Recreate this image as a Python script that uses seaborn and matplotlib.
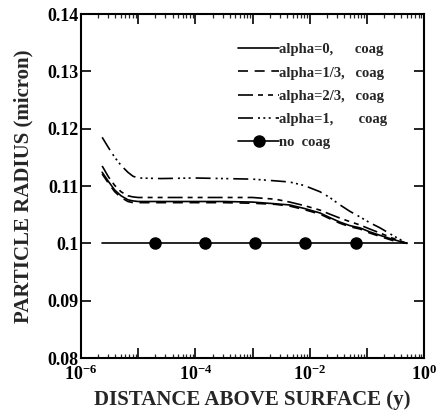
import numpy as np
import pandas as pd
import seaborn as sns
import matplotlib
matplotlib.use("Agg")
import matplotlib.pyplot as plt
from matplotlib.ticker import FixedLocator, LogLocator, NullFormatter

# values (x given as log10 of distance)
log_x = [-5.63, -5.52, -5.41, -5.3, -5.18, -5.09, -5.0, -4.6, -4.0, -3.5, -3.0, -2.6,
         -2.35, -2.1, -1.82, -1.65, -1.47, -1.3, -1.12, -0.95, -0.77, -0.55, -0.3]
r_alpha0 = [0.1124, 0.1108, 0.1093, 0.1083, 0.1076, 0.1074, 0.1073, 0.1073, 0.1073, 0.1073, 0.1072, 0.1069,
            0.1067, 0.1061, 0.1053, 0.1045, 0.1037, 0.1031, 0.1027, 0.1020, 0.1014, 0.1007, 0.1000]
r_alpha13 = [0.1121, 0.1105, 0.1090, 0.1080, 0.1073, 0.1071, 0.1071, 0.1071, 0.1071, 0.1071, 0.1070, 0.1068,
             0.1065, 0.1059, 0.1051, 0.1043, 0.1035, 0.1029, 0.1025, 0.1018, 0.1012, 0.1005, 0.1000]
r_alpha23 = [0.1135, 0.1116, 0.1101, 0.1090, 0.1083, 0.1081, 0.1080, 0.1080, 0.1080, 0.1080, 0.1080, 0.1077,
             0.1072, 0.1066, 0.1058, 0.1051, 0.1044, 0.1038, 0.1032, 0.1025, 0.1018, 0.1009, 0.1000]
r_alpha1 = [0.1185, 0.1167, 0.1150, 0.1136, 0.1124, 0.1117, 0.1114, 0.1113, 0.1114, 0.1113, 0.1112, 0.1109,
            0.1107, 0.1101, 0.1090, 0.1080, 0.1067, 0.1056, 0.1046, 0.1036, 0.1027, 0.1014, 0.1000]

nocoag_log_x = [-5.63, -4.71, -3.84, -2.96, -2.08, -1.19, -0.3]
nocoag_r = [0.1, 0.1, 0.1, 0.1, 0.1, 0.1, 0.1]

labels = ["alpha=0,      coag", "alpha=1/3,   coag", "alpha=2/3,   coag", "alpha=1,       coag", "no  coag"]
x_tick_labels = ["10$^{-6}$", "", "10$^{-4}$", "", "10$^{-2}$", "", "10$^{0}$"]
y_ticks = [0.08, 0.09, 0.10, 0.11, 0.12, 0.13, 0.14]
y_tick_labels = ["0.08", "0.09", "0.1", "0.11", "0.12", "0.13", "0.14"]

sns.set_style("ticks")
plt.rcParams["font.family"] = ["Liberation Serif", "DejaVu Serif"]
plt.rcParams["font.weight"] = "bold"
plt.rcParams["mathtext.default"] = "regular"

fig = plt.figure(figsize=(4.45, 4.12), dpi=100)
ax = fig.add_axes([0.182, 0.131, 0.771, 0.835])

x = 10 ** np.array(log_x)
styles = ["-", (0, (6, 4)), (0, (9, 3, 3, 3, 3, 3)), (0, (9, 3, 1.2, 2, 1.2, 2, 1.2, 3))]
series = [r_alpha0, r_alpha13, r_alpha23, r_alpha1]
for vals, ls, lab in zip(series, styles, labels[:4]):
    sns.lineplot(x=x, y=vals, ax=ax, color="black", linewidth=1.2, linestyle=ls, label=lab)

ax.plot(10 ** np.array(nocoag_log_x), nocoag_r, color="black", linewidth=1.2,
        marker="o", markersize=8, markevery=slice(1, -1), label=labels[4])

ax.set_xscale("log")
ax.set_xlim(1e-6, 1)
ax.set_ylim(0.08, 0.14)
ax.xaxis.set_major_locator(FixedLocator([1e-6, 1e-5, 1e-4, 1e-3, 1e-2, 1e-1, 1]))
ax.set_xticklabels(x_tick_labels)
ax.xaxis.set_minor_locator(LogLocator(base=10, subs=np.arange(2, 10), numticks=20))
ax.xaxis.set_minor_formatter(NullFormatter())
ax.set_yticks(y_ticks)
ax.set_yticklabels(y_tick_labels)

ax.tick_params(which="major", direction="in", length=7, width=1.2, top=True, right=True,
               labelsize=13, colors="black")
ax.tick_params(axis="x", which="major", pad=5)
ax.tick_params(axis="y", which="major", pad=2)
ax.tick_params(which="minor", direction="in", length=3, width=0.9, top=True, right=True)
for sp in ax.spines.values():
    sp.set_linewidth(1.5)
    sp.set_color("black")

ax.set_xlabel("DISTANCE ABOVE SURFACE (y)", fontsize=15, fontweight="bold", va="center")
ax.xaxis.set_label_coords(0.5, -0.122)
ax.set_ylabel("PARTICLE RADIUS (micron)", fontsize=15, fontweight="bold", va="center")
ax.yaxis.set_label_coords(-0.169, 0.5)

leg = ax.legend(loc="upper left", bbox_to_anchor=(0.458, 0.915), frameon=False,
                fontsize=10.5, handlelength=2.8, handletextpad=0.0, labelspacing=0.68,
                borderpad=0, borderaxespad=0)

fig.savefig("out.png", dpi=100)
